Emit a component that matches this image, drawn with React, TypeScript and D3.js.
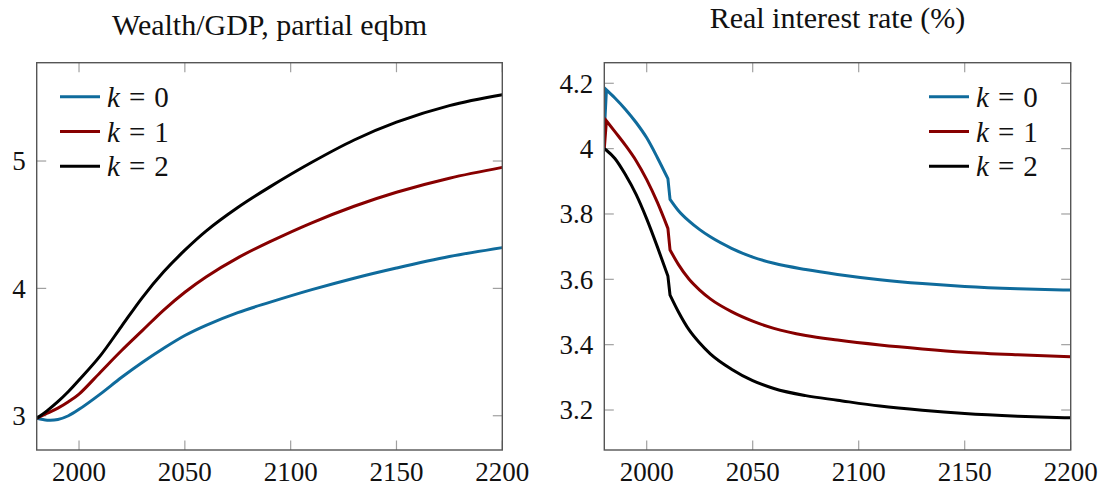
import * as d3 from "d3";

// Wealth/GDP panel
const wealthYears = [1980, 1985, 1990, 1995, 2000, 2010, 2020, 2030, 2040, 2050, 2060, 2075, 2090, 2110, 2130, 2150, 2175, 2200];
const wealthK0 = [2.98, 2.965, 2.97, 3.0, 3.05, 3.17, 3.3, 3.42, 3.53, 3.63, 3.71, 3.81, 3.89, 3.99, 4.08, 4.16, 4.25, 4.32];
const wealthK1 = [2.98, 3.02, 3.06, 3.11, 3.17, 3.34, 3.51, 3.67, 3.83, 3.97, 4.09, 4.24, 4.365, 4.515, 4.645, 4.755, 4.865, 4.95];
const wealthK2 = [2.98, 3.04, 3.11, 3.19, 3.28, 3.47, 3.7, 3.93, 4.13, 4.3, 4.45, 4.635, 4.795, 4.99, 5.165, 5.305, 5.435, 5.52];

// Real interest rate panel (jumps right after 1980 and at 2010)
const rateYears = [1980, 1981, 1985, 1990, 1995, 2000, 2005, 2010, 2011, 2015, 2020, 2025, 2030, 2040, 2050, 2060, 2075, 2090, 2110, 2130, 2150, 2175, 2200];
const rateJumpEnds = [1981, 2011];
const rateK0 = [4.05, 4.18, 4.155, 4.12, 4.08, 4.033, 3.973, 3.908, 3.845, 3.81, 3.778, 3.752, 3.73, 3.695, 3.668, 3.649, 3.63, 3.615, 3.599, 3.587, 3.578, 3.571, 3.567];
const rateK1 = [4.0, 4.085, 4.052, 4.01, 3.963, 3.905, 3.836, 3.756, 3.69, 3.645, 3.6, 3.567, 3.54, 3.501, 3.472, 3.45, 3.428, 3.414, 3.399, 3.387, 3.377, 3.369, 3.363];
const rateK2 = [4.0, 3.995, 3.97, 3.92, 3.86, 3.785, 3.7, 3.61, 3.552, 3.5, 3.445, 3.405, 3.372, 3.325, 3.29, 3.266, 3.244, 3.23, 3.212, 3.199, 3.189, 3.181, 3.176];

const xTicks = [2000, 2050, 2100, 2150, 2200];
const wealthTicks = [3, 4, 5];
const rateTicks = [3.2, 3.4, 3.6, 3.8, 4, 4.2];
const seriesLabels = ["0", "1", "2"];
const colors = ["#0f6b9c", "#870000", "#000000"];

const FONT = "'Liberation Serif', 'DejaVu Serif', serif";
const TOP = 62.7;
const BOTTOM = 450;

interface PanelProps {
  title: string;
  titleY: number;
  x0: number;
  x1: number;
  yDomain: [number, number];
  years: number[];
  series: number[][];
  jumpEnds: number[];
  curve: d3.CurveFactory;
  yTicks: number[];
  legendX: number;
}

function Panel({ title, titleY, x0, x1, yDomain, years, series, jumpEnds, curve, yTicks, legendX }: PanelProps) {
  const x = d3.scaleLinear().domain([1980, 2200]).range([x0, x1]);
  const y = d3.scaleLinear().domain(yDomain).range([BOTTOM, TOP]);
  const tickLen = 9.5;
  const smooth = d3.line().curve(curve);
  const straight = d3.line();

  // smooth pieces joined by straight jump segments, as one path
  const pathFor = (vals: number[]) => {
    const pts: [number, number][] = vals.map((v, i) => [x(years[i]), y(v)]);
    const pieces: { idx: number[]; jump: boolean }[] = [];
    let cur = [0];
    for (let i = 1; i < years.length; i++) {
      if (jumpEnds.includes(years[i])) {
        pieces.push({ idx: cur, jump: false });
        pieces.push({ idx: [i - 1, i], jump: true });
        cur = [i];
      } else cur.push(i);
    }
    pieces.push({ idx: cur, jump: false });
    let d = "";
    pieces
      .filter((pc) => pc.idx.length > 1)
      .forEach((pc) => {
        const sub = pc.idx.map((i) => pts[i]);
        const s = (pc.jump ? straight : smooth)(sub) ?? "";
        d += d === "" ? s : s.replace(/^M[\d.,\-]*/, "");
      });
    return d;
  };

  return (
    <g>
      <text x={(x0 + x1) / 2} y={titleY} textAnchor="middle" fontSize={30} fontFamily={FONT} fill="#111">
        {title}
      </text>
      <defs>
        <clipPath id={`clip-${Math.round(x0)}`}>
          <rect x={x0} y={TOP} width={x1 - x0} height={BOTTOM - TOP} />
        </clipPath>
      </defs>
      {/* tick marks on all four sides */}
      {xTicks.map((t) => (
        <g key={t} stroke="#a0a0a0" strokeWidth={1.2}>
          <line x1={x(t)} x2={x(t)} y1={BOTTOM} y2={BOTTOM - tickLen} />
          <line x1={x(t)} x2={x(t)} y1={TOP} y2={TOP + tickLen} />
        </g>
      ))}
      {yTicks.map((t) => (
        <g key={t} stroke="#a0a0a0" strokeWidth={1.2}>
          <line x1={x0} x2={x0 + tickLen} y1={y(t)} y2={y(t)} />
          <line x1={x1} x2={x1 - tickLen} y1={y(t)} y2={y(t)} />
        </g>
      ))}
      <g clipPath={`url(#clip-${Math.round(x0)})`}>
        {series.map((s, i) => (
          <path key={i} d={pathFor(s)} fill="none" stroke={colors[i]} strokeWidth={3} strokeLinejoin="miter" />
        ))}
      </g>
      <rect x={x0} y={TOP} width={x1 - x0} height={BOTTOM - TOP} fill="none" stroke="#555" strokeWidth={1.4} />
      {xTicks.map((t) => (
        <text key={t} x={x(t)} y={481} textAnchor="middle" fontSize={27} fontFamily={FONT} fill="#111">
          {t}
        </text>
      ))}
      {yTicks.map((t) => (
        <text key={t} x={x0 - 11} y={y(t)} dy="0.35em" textAnchor="end" fontSize={27} fontFamily={FONT} fill="#111">
          {String(t)}
        </text>
      ))}
      {seriesLabels.map((lab, i) => {
        const ly = 96.7 + i * 34.8;
        return (
          <g key={lab}>
            <line x1={legendX} x2={legendX + 40} y1={ly} y2={ly} stroke={colors[i]} strokeWidth={3} />
            <text x={legendX + 47} y={ly} dy="0.35em" fontSize={29} fontFamily={FONT} fill="#111">
              <tspan fontStyle="italic">k</tspan>
              <tspan dx={9}>=</tspan>
              <tspan dx={9}>{lab}</tspan>
            </text>
          </g>
        );
      })}
    </g>
  );
}

export default function App() {
  return (
    <svg
      width={1106}
      height={489}
      viewBox="0 0 1106 489"
      style={{ position: "absolute", left: 0, top: 0, background: "#fff" }}
    >
      <Panel
        title="Wealth/GDP, partial eqbm"
        titleY={35}
        x0={36.7}
        x1={502.3}
        yDomain={[2.731, 5.772]}
        years={wealthYears}
        series={[wealthK0, wealthK1, wealthK2]}
        jumpEnds={[]}
        curve={d3.curveCatmullRom.alpha(0.5)}
        yTicks={wealthTicks}
        legendX={60}
      />
      <Panel
        title="Real interest rate (%)"
        titleY={28}
        x0={604.3}
        x1={1070.7}
        yDomain={[3.0776, 4.263]}
        years={rateYears}
        series={[rateK0, rateK1, rateK2]}
        jumpEnds={rateJumpEnds}
        curve={d3.curveMonotoneX}
        yTicks={rateTicks}
        legendX={929}
      />
    </svg>
  );
}
